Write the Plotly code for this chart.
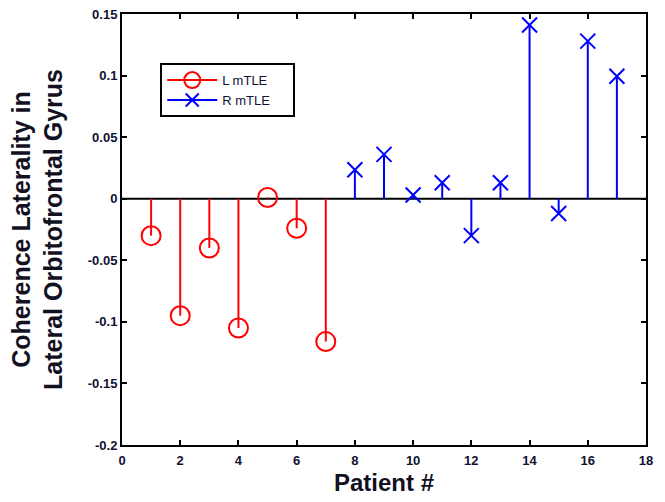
import plotly.graph_objects as go

left_patients = [1, 2, 3, 4, 5, 6, 7]
left_values = [-0.030, -0.095, -0.040, -0.105, 0.001, -0.024, -0.116]
right_patients = [8, 9, 10, 11, 12, 13, 14, 15, 16, 17]
right_values = [0.0235, 0.036, 0.003, 0.013, -0.030, 0.013, 0.141, -0.012, 0.128, 0.0995]

x_ticks = [0, 2, 4, 6, 8, 10, 12, 14, 16, 18]
y_ticks = [-0.2, -0.15, -0.1, -0.05, 0, 0.05, 0.1, 0.15]
y_tick_labels = ["-0.2", "-0.15", "-0.1", "-0.05", "0", "0.05", "0.1", "0.15"]

RED = "#ff0000"
BLUE = "#0000ff"
FONT = "Liberation Sans"
PAD = "&nbsp;" * 5


def stems(xs, ys):
    sx, sy = [], []
    for x, y in zip(xs, ys):
        sx += [x, x, None]
        sy += [0, y, None]
    return sx, sy


fig = go.Figure()

# baseline
fig.add_trace(go.Scatter(x=[x_ticks[0], x_ticks[-1]], y=[0, 0], mode="lines",
                         line=dict(color="black", width=2), showlegend=False, hoverinfo="skip"))

for xs, ys, color, sym, size, name in [
    (left_patients, left_values, RED, "circle-open", 19, "L mTLE"),
    (right_patients, right_values, BLUE, "x-thin-open", 15, "R mTLE"),
]:
    sx, sy = stems(xs, ys)
    fig.add_trace(go.Scatter(x=sx, y=sy, mode="lines", line=dict(color=color, width=2),
                             showlegend=False, hoverinfo="skip"))
    fig.add_trace(go.Scatter(x=xs, y=ys, mode="markers", name=name,
                             marker=dict(symbol=sym, size=size, color=color,
                                         line=dict(color=color, width=2)),
                             showlegend=False))
    fig.add_trace(go.Scatter(x=[None], y=[None], mode="lines+markers", name=name + PAD,
                             line=dict(color=color, width=2),
                             marker=dict(symbol=sym, size=size - 2, color=color,
                                         line=dict(color=color, width=2))))

axis_common = dict(showline=True, linecolor="black", linewidth=2, mirror="allticks",
                   ticks="inside", ticklen=5, tickwidth=2, tickcolor="black",
                   showgrid=False, zeroline=False, automargin=False,
                   tickfont=dict(family=FONT, size=13, color="#111133"))

fig.update_xaxes(range=[0, 18], tickvals=x_ticks,
                 ticktext=["<b>%s</b>" % v for v in x_ticks], ticklabelstandoff=2,
                 title=dict(text="<b>Patient #</b>", standoff=8,
                            font=dict(family=FONT, size=24, color="#111122")),
                 **axis_common)
fig.update_yaxes(range=[-0.2, 0.15], tickvals=y_ticks,
                 ticktext=["<b>%s</b>" % t for t in y_tick_labels],
                 title=dict(text="<b>Coherence Laterality in<br>Lateral Orbitofrontal Gyrus</b>",
                            standoff=18,
                            font=dict(family=FONT, size=25, color="#111122")),
                 **axis_common)

fig.update_layout(
    width=665, height=502,
    margin=dict(l=122, r=19, t=14, b=57),
    plot_bgcolor="white", paper_bgcolor="white",
    legend=dict(x=0.073, y=0.886, xanchor="left", yanchor="top",
                bgcolor="white", bordercolor="black", borderwidth=2,
                font=dict(family=FONT, size=13, color="#111133"),
                itemwidth=50, tracegroupgap=0),
    showlegend=True,
)

fig.write_html("out.html")
